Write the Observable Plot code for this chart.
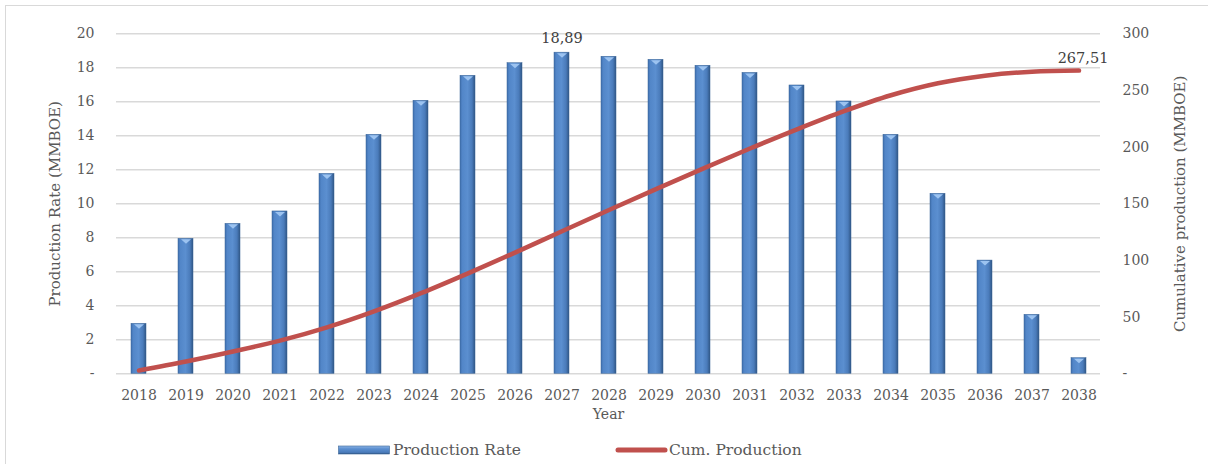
<!DOCTYPE html>
<html>
<head>
<meta charset="utf-8">
<script src="https://cdn.jsdelivr.net/npm/d3@7"></script>
<script src="https://cdn.jsdelivr.net/npm/@observablehq/plot@0.6"></script>
<style>
  html, body { margin: 0; padding: 0; background: #fff; overflow: hidden; }
  #wrap { position: relative; width: 1208px; height: 464px; overflow: hidden; font-family: "DejaVu Serif", serif; color: #595959; }
  #frame { position: absolute; left: 5px; top: 5px; width: 1203px; height: 459px; border-left: 1.5px solid #d9d9d9; border-top: 1.5px solid #d9d9d9; box-sizing: border-box; pointer-events: none; }
  #chart { position: absolute; left: 0; top: 0; }
  #legend { position: absolute; left: 0; top: 436px; width: 1208px; height: 28px; font-size: 15.5px; }
  .item { position: absolute; top: 0; height: 28px; display: flex; align-items: center; }
  .item svg { display: block; }
</style>
</head>
<body>
<div id="wrap">
  <div id="chart"></div>
  <div id="legend">
    <div class="item" style="left:338px">
      <svg width="52" height="10"><defs>
        <linearGradient id="legGrad" x1="0" y1="0" x2="0" y2="1">
          <stop offset="0" stop-color="#8db4e6"/>
          <stop offset="0.35" stop-color="#5b8fd0"/>
          <stop offset="0.8" stop-color="#4a7bba"/>
          <stop offset="1" stop-color="#2f5584"/>
        </linearGradient></defs>
        <rect x="0.5" y="1" width="51" height="8" fill="url(#legGrad)" stroke="#3a6496" stroke-width="0.6"/>
      </svg>
      <span style="margin-left:3px">Production Rate</span>
    </div>
    <div class="item" style="left:615px">
      <svg width="53" height="10"><line x1="3" y1="5" x2="50" y2="5" stroke="#c0504d" stroke-width="5" stroke-linecap="round"/></svg>
      <span style="margin-left:1px">Cum. Production</span>
    </div>
  </div>
  <div id="frame"></div>
</div>
<script>
// Annual production rate and cumulative production, MMBOE
const years = ["2018","2019","2020","2021","2022","2023","2024","2025","2026","2027","2028",
               "2029","2030","2031","2032","2033","2034","2035","2036","2037","2038"];
const productionRate = [2.94, 7.94, 8.82, 9.55, 11.76, 14.06, 16.06, 17.53, 18.27, 18.89, 18.65,
                        18.47, 18.12, 17.70, 16.96, 16.02, 14.06, 10.59, 6.66, 3.47, 0.92];
const cumProduction = [2.94, 10.88, 19.70, 29.25, 41.01, 55.07, 71.13, 88.66, 106.93, 125.82, 144.47,
                       162.94, 181.06, 198.76, 215.72, 231.74, 245.80, 256.39, 263.05, 266.55, 267.51];
const leftTicks = [0, 2, 4, 6, 8, 10, 12, 14, 16, 18, 20];
const rightTicks = [0, 50, 100, 150, 200, 250, 300];
const labelledRateYear = "2027";
const labelledCumYear = "2038";

// the right axis (0–300) is drawn on the left scale (0–20)
const ratio = 300 / 20;
const rows = years.map((year, i) => ({year, rate: productionRate[i], cum: cumProduction[i]}));
const fmt = v => v.toFixed(2).replace(".", ",");
const dash = v => (v === 0 ? "-" : String(v));

// flat downward wedge used as the bevel at the top of each column
const bevel = {
  draw(context, size) {
    const w = Math.sqrt(size / Math.PI);
    context.moveTo(-w, 0);
    context.lineTo(w, 0);
    context.lineTo(0, w * 0.9);
    context.closePath();
  }
};

const textColor = "#595959";

const chart = Plot.plot({
  width: 1208,
  height: 436,
  marginLeft: 116,
  marginRight: 108,
  marginTop: 33.3,
  marginBottom: 62.7,
  style: {fontFamily: "'DejaVu Serif', serif", fontSize: "14px", color: textColor, background: "transparent"},
  x: {domain: years, paddingInner: 0.69, paddingOuter: 0.31, label: null},
  y: {domain: [0, 20], label: null},
  marks: [
    Plot.ruleY(leftTicks, {stroke: "#d9d9d9", strokeWidth: 1.4}),
    Plot.axisX({tickSize: 0, tickPadding: 16, label: null, fill: textColor}),
    Plot.axisY(leftTicks, {anchor: "left", tickSize: 0, tickPadding: 22, tickFormat: dash, label: null, fill: textColor}),
    Plot.axisY(rightTicks.map(v => v / ratio), {
      anchor: "right", tickSize: 0, tickPadding: 22, label: null, fill: textColor,
      tickFormat: d => dash(Math.round(d * ratio))
    }),
    Plot.barY(rows, {x: "year", y: "rate", fill: "url(#barGrad)", stroke: "#3a6496", strokeWidth: 0.5}),
    Plot.dot(rows, {x: "year", y: "rate", symbol: bevel, r: 5, fill: "#9cc3f0", stroke: "none", dy: 0.5}),
    Plot.line(rows, {x: "year", y: d => d.cum / ratio, stroke: "#c0504d", strokeWidth: 4.5,
                     strokeLinecap: "round", curve: "monotone-x"}),
    Plot.text(rows.filter(d => d.year === labelledRateYear), {
      x: "year", y: "rate", text: d => fmt(d.rate), dy: -14, fontSize: 14.5, fill: "#404040"
    }),
    Plot.text(rows.filter(d => d.year === labelledCumYear), {
      x: "year", y: d => d.cum / ratio, text: d => fmt(d.cum), dy: -12, dx: 4, fontSize: 14.5, fill: "#404040"
    }),
    Plot.text(["Year"], {frameAnchor: "bottom", dy: 44.7, fontSize: 14, fill: textColor}),
    Plot.text(["Production Rate (MMBOE)"], {frameAnchor: "left", dx: -61, rotate: -90, textAnchor: "middle", fontSize: 15, fill: textColor}),
    Plot.text(["Cumulative production (MMBOE)"], {frameAnchor: "right", dx: 80, rotate: -90, textAnchor: "middle", fontSize: 15, fill: textColor})
  ]
});

// horizontal shading for the columns
const defs = d3.select(chart).insert("defs", ":first-child");
const grad = defs.append("linearGradient").attr("id", "barGrad")
  .attr("x1", "0").attr("y1", "0").attr("x2", "1").attr("y2", "0");
[[0, "#3f6fae"], [0.15, "#5286c8"], [0.5, "#5b8fd0"], [0.8, "#4a7bba"], [1, "#2f5584"]]
  .forEach(([o, c]) => grad.append("stop").attr("offset", o).attr("stop-color", c));

document.getElementById("chart").appendChild(chart);
</script>
</body>
</html>
